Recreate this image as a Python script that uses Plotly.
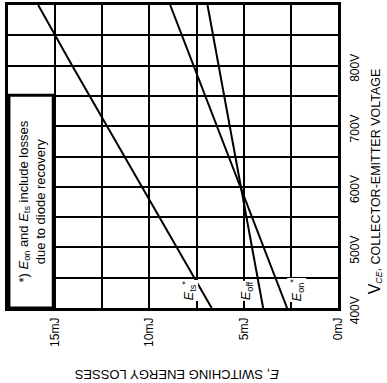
import plotly.graph_objects as go

# Collector-emitter voltage (V) and switching energy losses (mJ)
vce = [400, 500, 600, 700, 800, 900]
e_ts = [6.7, 8.55, 10.4, 12.25, 14.1, 15.9]
e_off = [3.97, 4.56, 5.15, 5.74, 6.33, 6.92]
e_on = [2.7, 3.94, 5.18, 6.42, 7.66, 8.9]

e_ticks = [0, 2.5, 5, 7.5, 10, 12.5, 15, 17.5]
e_ticktext = ["0mJ", "", "5mJ", "", "10mJ", "", "15mJ", ""]
v_ticks = [400, 450, 500, 550, 600, 650, 700, 750, 800, 850, 900]
v_ticktext = ["400V", "", "500V", "", "600V", "", "700V", "", "800V", "", ""]

FONT = "Liberation Sans, Arial, Helvetica, sans-serif"

fig = go.Figure()
for e in (e_ts, e_off, e_on):
    fig.add_trace(go.Scatter(x=e, y=vce, mode="lines",
                             line=dict(color="black", width=2),
                             showlegend=False, hoverinfo="skip"))

fig.update_layout(
    width=387, height=383,
    margin=dict(l=8, r=49, t=2, b=75),
    paper_bgcolor="white", plot_bgcolor="white",
    font=dict(family=FONT, color="black", size=12),
    xaxis=dict(range=[17.5, 0], tickvals=e_ticks, ticktext=e_ticktext,
               tickangle=-90, showgrid=True, gridcolor="black", gridwidth=2,
               showline=True, linecolor="black", linewidth=2.5, mirror=True,
               zeroline=False, ticks="", tickfont=dict(size=12),
               ticklabelstandoff=2),
    yaxis=dict(range=[400, 900], tickvals=v_ticks, ticktext=v_ticktext,
               side="right", tickangle=-90, showgrid=True, gridcolor="black",
               gridwidth=2, showline=True, linecolor="black", linewidth=2.5,
               mirror=True, zeroline=False, ticks="", tickfont=dict(size=12),
               ticklabelstandoff=4, ticklabelshift=4),
)

# Note box along the high-energy edge
fig.add_shape(type="rect", xref="x", yref="y", x0=17.45, x1=15.1, y0=400, y1=751,
              fillcolor="white", line=dict(color="black", width=3), layer="above")
fig.add_annotation(xref="x", yref="y", x=16.25, y=575, showarrow=False,
                   textangle=-90, font=dict(size=13),
                   xanchor="center", yanchor="middle",
                   text="*) <i>E</i><sub>on</sub> and <i>E</i><sub>ts</sub> include losses<br>due to diode recovery")

# Curve labels
for x, txt in [(7.9, "<i>E</i><sub>ts</sub><sup>*</sup>"),
               (4.83, "<i>E</i><sub>off</sub>"),
               (2.17, "<i>E</i><sub>on</sub><sup>*</sup>")]:
    fig.add_annotation(xref="x", yref="y", x=x, y=429, showarrow=False,
                       textangle=-90, text=txt, font=dict(size=13),
                       xanchor="center", yanchor="middle",
                       bgcolor="white", borderpad=0)

# Axis titles
fig.add_annotation(xref="paper", yref="paper", x=0.509, y=-0.22, showarrow=False,
                   textangle=180, font=dict(size=13),
                   xanchor="center", yanchor="middle",
                   text="<i>E</i>, SWITCHING ENERGY LOSSES")
fig.add_annotation(xref="paper", yref="paper", x=1.112, y=0.418, showarrow=False,
                   textangle=-90, font=dict(size=12.5),
                   xanchor="center", yanchor="middle",
                   text="<span style='font-size:16px'>V</span><sub><i>CE</i></sub>, COLLECTOR-EMITTER VOLTAGE")

fig.write_html("out.html")
